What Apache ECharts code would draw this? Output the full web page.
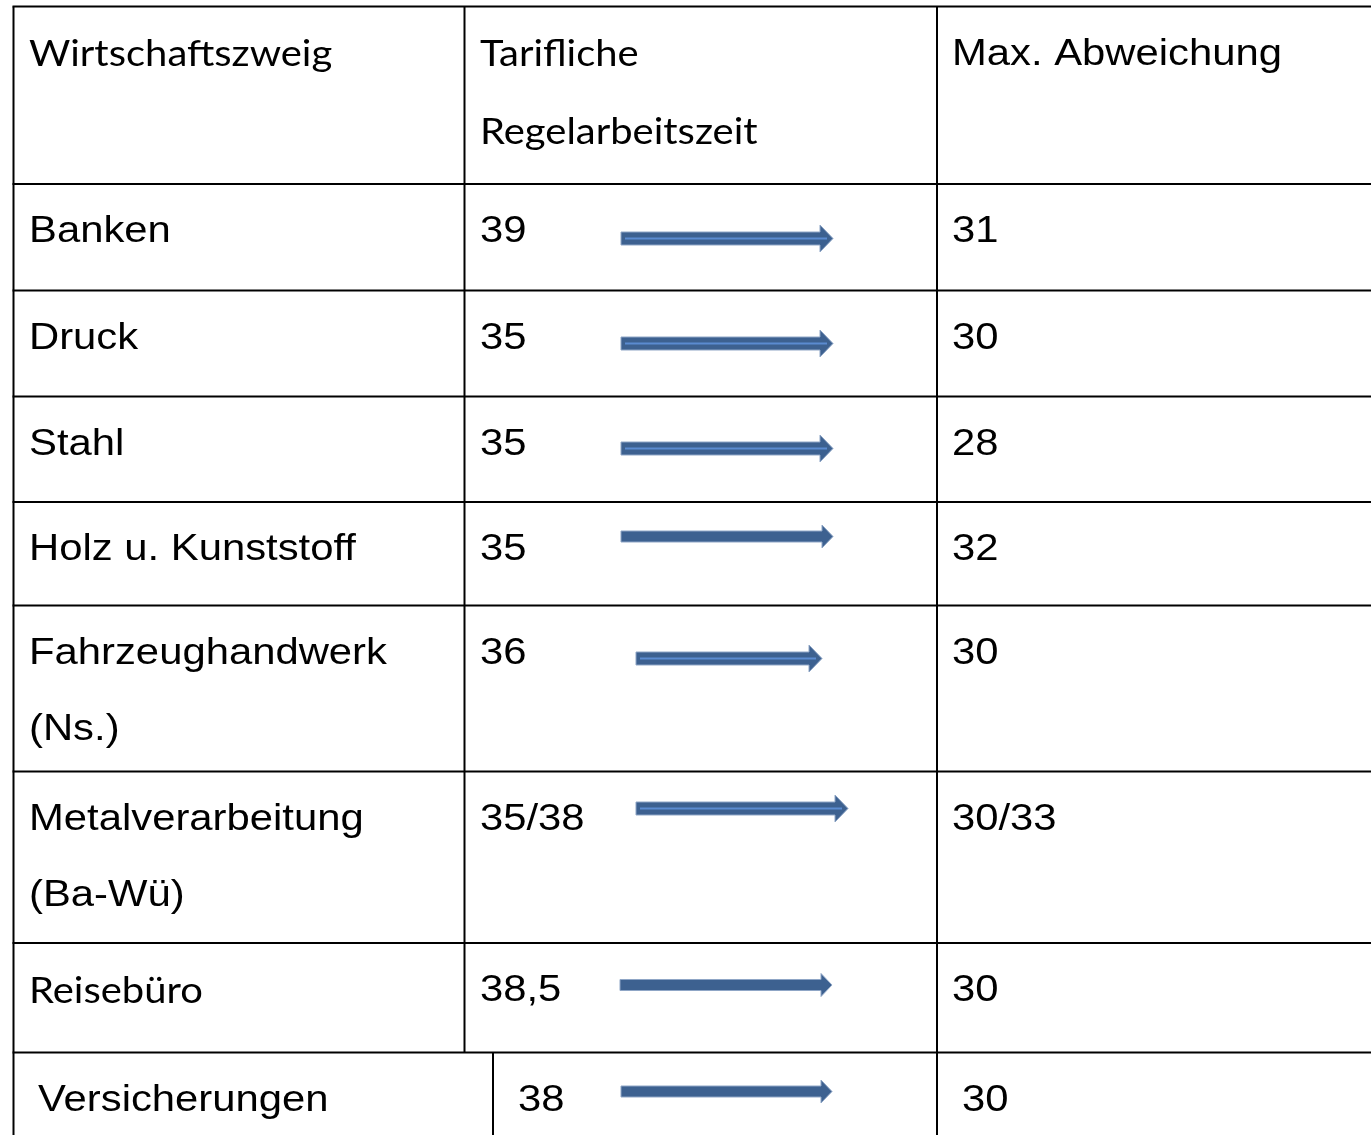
<!DOCTYPE html>
<html>
<head>
<meta charset="utf-8">
<script src="https://cdn.jsdelivr.net/npm/echarts@6/dist/echarts.min.js"></script>
<style>
  html, body { margin: 0; padding: 0; background: #fff; }
  #chart { width: 1371px; height: 1135px; }
</style>
</head>
<body>
<div id="chart"></div>
<script>
// table content
const headers = [["Wirtschaftszweig"], ["Tarifliche", "Regelarbeitszeit"], ["Max. Abweichung"]];
const branches = [
  ["Banken"],
  ["Druck"],
  ["Stahl"],
  ["Holz u. Kunststoff"],
  ["Fahrzeughandwerk", "(Ns.)"],
  ["Metalverarbeitung", "(Ba-Wü)"],
  ["Reisebüro"],
  ["Versicherungen"]
];
const regularHours = ["39", "35", "35", "35", "36", "35/38", "38,5", "38"];
const maxDeviation = ["31", "30", "28", "32", "30", "30/33", "30", "30"];

// layout (page units, mapped through the hidden value axes)
const W = 1371;
const H = 1135;
const rowEdges = [6.5, 184, 290.5, 396.5, 502, 605.5, 771.5, 943, 1052.5, H];
const leftEdge = 13.5;
const colLines = [464.5, 464.5, 464.5, 464.5, 464.5, 464.5, 464.5, 464.5, 493];
const rightColLine = 937;
const textX = [
  [29, 480, 952], [29, 480, 952], [29, 480, 952], [29, 480, 952], [29, 480, 952],
  [29, 480, 952], [29, 480, 952], [29, 480, 952], [38, 518, 962]
];
const baselineOffset = 61;
const lineGap = 76;
// arrows: [x0, x1, yCenter, striped]
const arrows = [
  [621, 833, 238.5, true],
  [621, 833, 343.5, true],
  [621, 833, 448.5, true],
  [621, 833, 536.5, false],
  [636, 822, 658.5, true],
  [636, 848, 808.5, true],
  [620, 832, 985, false],
  [621, 832, 1091.5, false]
];

const ARIAL_SIZE = 37;
const CALIBRI_SIZE = 37;
const ARIAL = ARIAL_SIZE + "px 'Liberation Sans', Arial, sans-serif";
const CALIBRI = CALIBRI_SIZE + "px Lato, 'Open Sans', sans-serif";
const ARIAL_SCALE = 1.13;
const CALIBRI_SCALE = 1.08;

const chart = echarts.init(document.getElementById("chart"));

function textEl(api, str, x, baseline, calibri) {
  const size = calibri ? CALIBRI_SIZE : ARIAL_SIZE;
  const p = api.coord([x, baseline - size * 0.35]);
  return {
    type: "text",
    x: p[0],
    y: p[1],
    scaleX: calibri ? CALIBRI_SCALE : ARIAL_SCALE,
    style: {
      text: str,
      font: calibri ? CALIBRI : ARIAL,
      fill: "#000",
      align: "left",
      verticalAlign: "middle"
    },
    silent: true
  };
}

function lineEl(api, x0, y0, x1, y1) {
  const a = api.coord([x0, y0]);
  const b = api.coord([x1, y1]);
  return {
    type: "line",
    shape: { x1: a[0], y1: a[1], x2: b[0], y2: b[1] },
    style: { stroke: "#000", lineWidth: 2 },
    silent: true
  };
}

function arrowEl(api, x0, x1, yc, striped) {
  const body = striped ? 13 : 11;
  const head = striped ? 27 : 23;
  const headLen = striped ? 13 : 11;
  const pts = [
    [x0, yc - body / 2], [x1 - headLen, yc - body / 2], [x1 - headLen, yc - head / 2],
    [x1, yc], [x1 - headLen, yc + head / 2], [x1 - headLen, yc + body / 2], [x0, yc + body / 2]
  ].map((pt) => api.coord(pt));
  const children = [{
    type: "polygon",
    shape: { points: pts },
    style: { fill: "#3d6190", stroke: "#8fa6c6", lineWidth: 1 },
    silent: true
  }];
  if (striped) {
    const a = api.coord([x0 + 4, yc]);
    const b = api.coord([x1 - 6, yc]);
    children.push({
      type: "line",
      shape: { x1: a[0], y1: a[1], x2: b[0], y2: b[1] },
      style: { stroke: "#5b8bd0", lineWidth: 2 },
      silent: true
    });
  }
  return { type: "group", children };
}

// row 0 is the header, rows 1..8 are the branches
function renderRow(params, api) {
  const r = api.value(0);
  const top = rowEdges[r];
  const bottom = rowEdges[r + 1];
  const xs = textX[r];
  const children = [];

  children.push(lineEl(api, leftEdge - 1, top, W, top));
  children.push(lineEl(api, leftEdge, top, leftEdge, bottom));
  children.push(lineEl(api, colLines[r], top, colLines[r], bottom));
  children.push(lineEl(api, rightColLine, top, rightColLine, bottom));

  const base = top + baselineOffset;
  if (r === 0) {
    children.push(textEl(api, headers[0][0], xs[0], base, true));
    headers[1].forEach((t, k) => children.push(textEl(api, t, xs[1], base + k * 78, true)));
    children.push(textEl(api, headers[2][0], xs[2], base, false));
  } else {
    const i = r - 1;
    const isCalibri = branches[i][0] === "Reisebüro";
    branches[i].forEach((t, k) => children.push(textEl(api, t, xs[0], base + k * lineGap, isCalibri)));
    children.push(textEl(api, regularHours[i], xs[1], base, false));
    children.push(textEl(api, maxDeviation[i], xs[2], base, false));
    const a = arrows[i];
    children.push(arrowEl(api, a[0], a[1], a[2], a[3]));
  }
  return { type: "group", children };
}

chart.setOption({
  animation: false,
  backgroundColor: "#fff",
  grid: { left: 0, right: 0, top: 0, bottom: 0 },
  xAxis: { type: "value", min: 0, max: W, show: false },
  yAxis: { type: "value", min: 0, max: H, inverse: true, show: false },
  series: [{
    type: "custom",
    renderItem: renderRow,
    clip: false,
    data: [0, 1, 2, 3, 4, 5, 6, 7, 8].map((r) => [r])
  }]
});

window.addEventListener("resize", () => chart.resize());
</script>
</body>
</html>
